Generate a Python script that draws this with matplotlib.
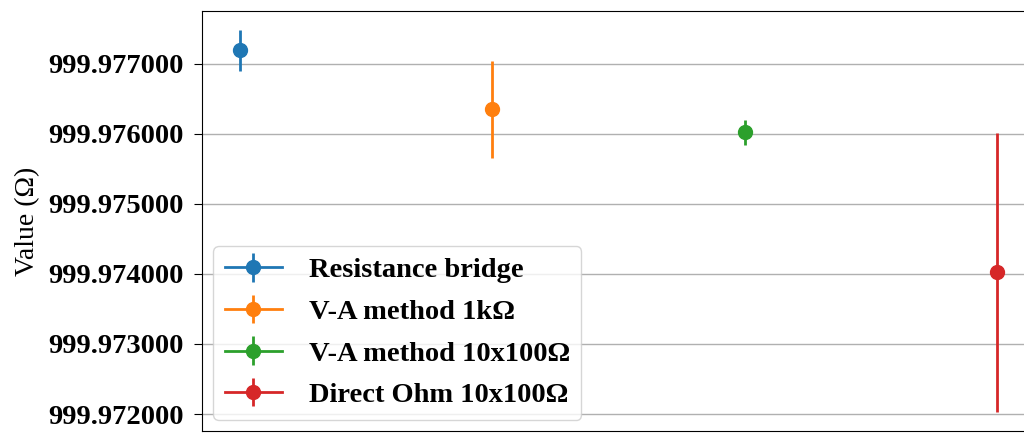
import numpy as np
import matplotlib.pyplot as plt

plt.rcParams['font.family'] = ['Liberation Serif', 'DejaVu Serif']

# measurements
methods = ['Resistance bridge', 'V-A method 1k\u03a9', 'V-A method 10x100\u03a9', 'Direct Ohm 10x100\u03a9']
values = [999.97719, 999.97635, 999.97602, 999.97402]
errors = [0.00029, 0.00069, 0.00018, 0.00199]
colors = ['#1f77b4', '#ff7f0e', '#2ca02c', '#d62728']

fig = plt.figure(figsize=(10.24, 4.33), dpi=100)
# original figure is cropped: axes run past the right and bottom edges
ax = fig.add_axes([202/1024, 2/433, 833/1024, 420/433])

for i, (m, v, e, c) in enumerate(zip(methods, values, errors, colors)):
    ax.errorbar(i, v, yerr=e, fmt='-o', color=c, markersize=10, elinewidth=2,
                linewidth=2, label=m)

ax.grid(axis='y', color='#b0b0b0', linewidth=1)
ax.set_axisbelow(True)
ax.set_ylabel('Value (\u03a9)', fontsize=20, labelpad=6)
ax.yaxis.set_major_formatter(plt.FormatStrFormatter('%.6f'))
ax.tick_params(axis='y', labelsize=20.5, length=6, pad=7)
for lab in ax.get_yticklabels():
    lab.set_fontweight('bold')
ax.set_xticks([])

ax.legend(loc='lower left', prop={'weight': 'bold', 'size': 20.5}, handlelength=2.0,
          labelspacing=0.55, borderaxespad=0.4, handletextpad=0.95)

fig.savefig('out.png', dpi=100)
